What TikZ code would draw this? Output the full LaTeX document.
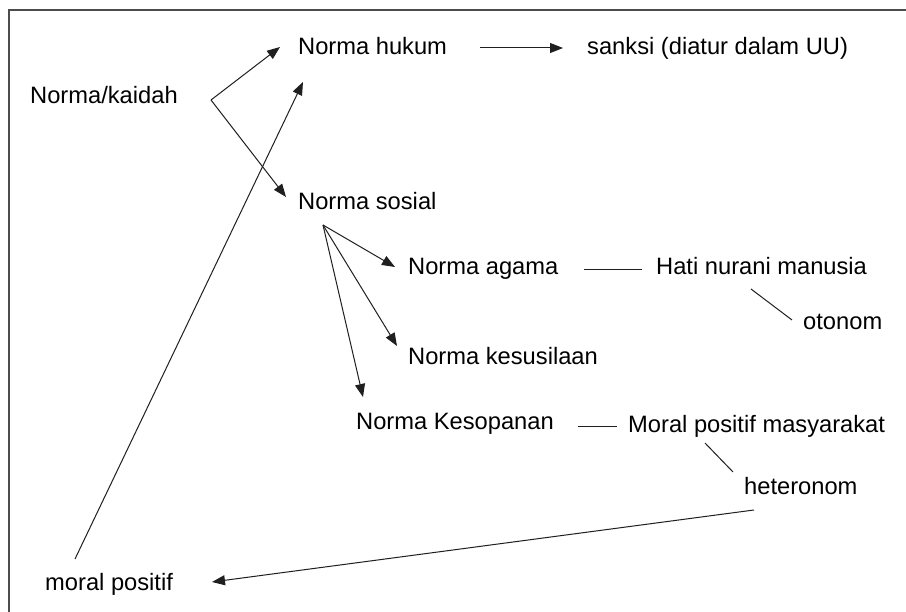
\documentclass[tikz,border=0pt]{standalone}
\usepackage{fontspec}
\setmainfont{Liberation Sans}
\usetikzlibrary{arrows.meta}

\begin{document}
\begin{tikzpicture}[x=1pt, y=-1pt,
  label/.style={anchor=base west, inner sep=0pt, font=\fontsize{23.7pt}{26pt}\selectfont, text=black},
  link/.style={draw=black!88, line width=1pt},
  arrowlink/.style={link, -{Triangle[length=13pt,width=10pt]}},
  frame/.style={draw=black!70, line width=1.6pt}]

  % page area and partial frame
  \useasboundingbox (0,0) rectangle (906,612);
  \fill[white] (0,0) rectangle (906,612);
  \coordinate (frameTL) at (9,10);
  \coordinate (frameTR) at (906,10);
  \coordinate (frameBL) at (9,612);
  \draw[frame] (frameTR) -- (frameTL) -- (frameBL);

  % labels
  \node[label] (kaidah)     at (30,104)  {Norma/kaidah};
  \node[label] (hukum)      at (298,55)  {Norma hukum};
  \node[label] (sanksi)     at (587,55)  {sanksi (diatur dalam UU)};
  \node[label] (sosial)     at (298,210) {Norma sosial};
  \node[label] (agama)      at (408,275) {Norma agama};
  \node[label] (hati)       at (656,275) {Hati nurani manusia};
  \node[label] (otonom)     at (803,330) {otonom};
  \node[label] (kesusilaan) at (408,365) {Norma kesusilaan};
  \node[label] (kesopanan)  at (356,430) {Norma Kesopanan};
  \node[label] (moralmas)   at (628,433) {Moral positif masyarakat};
  \node[label] (heteronom)  at (744,495) {heteronom};
  \node[label] (moralpos)   at (45,590)  {moral positif};

  % connector end points
  \coordinate (kaidahFork) at (211,100);
  \coordinate (hukumIn)    at (280,47);
  \coordinate (sosialIn)   at (286,197);
  \coordinate (hukumOut)   at (480,48);
  \coordinate (sanksiIn)   at (563,48);
  \coordinate (moralUp)    at (75,559);
  \coordinate (hukumBelow) at (303,82);
  \coordinate (sosialFork) at (323,225);
  \coordinate (agamaIn)    at (395,267);
  \coordinate (susilaIn)   at (397,346);
  \coordinate (sopanIn)    at (363,397);
  \coordinate (agamaOut)   at (584,270);
  \coordinate (hatiIn)     at (642,270);
  \coordinate (hatiDown)   at (751,289);
  \coordinate (otonomIn)   at (792,320);
  \coordinate (sopanOut)   at (578,427);
  \coordinate (moralmasIn) at (617,427);
  \coordinate (moralDown)  at (705,443);
  \coordinate (heteroIn)   at (733,472);
  \coordinate (heteroOut)  at (754,510);
  \coordinate (moralposIn) at (212,582);

  % connectors
  \draw[arrowlink] (kaidahFork) -- (hukumIn);
  \draw[arrowlink] (kaidahFork) -- (sosialIn);
  \draw[arrowlink] (hukumOut) -- (sanksiIn);
  \draw[arrowlink] (moralUp) -- (hukumBelow);
  \draw[arrowlink] (sosialFork) -- (agamaIn);
  \draw[arrowlink] (sosialFork) -- (susilaIn);
  \draw[arrowlink] (sosialFork) -- (sopanIn);
  \draw[link] (agamaOut) -- (hatiIn);
  \draw[link] (hatiDown) -- (otonomIn);
  \draw[link] (sopanOut) -- (moralmasIn);
  \draw[link] (moralDown) -- (heteroIn);
  \draw[arrowlink] (heteroOut) -- (moralposIn);
\end{tikzpicture}
\end{document}
